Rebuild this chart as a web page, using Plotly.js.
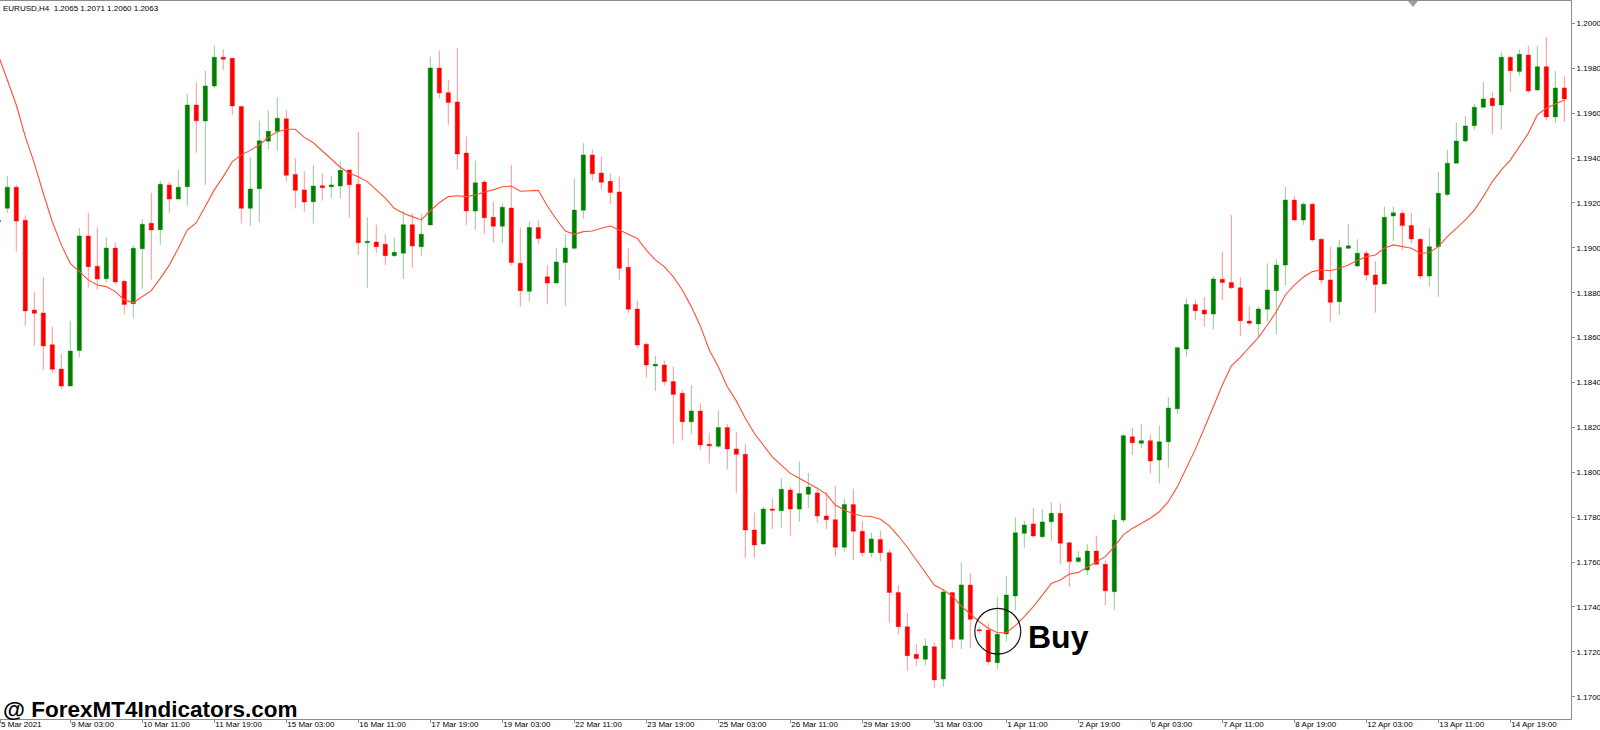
<!DOCTYPE html>
<html><head><meta charset="utf-8">
<script src="https://cdn.plot.ly/plotly-3.0.1.min.js"></script>
<style>html,body{margin:0;padding:0;background:#fff;overflow:hidden}#chart{width:1600px;height:730px}</style>
</head><body><div id="chart"></div>
<script>
const firstBar = -1;
const open = [1.19115,1.19176,1.19270,1.19123,1.18723,1.18710,1.18568,1.18460,1.18384,1.18542,
1.19053,1.18918,1.18862,1.18999,1.18851,1.18751,1.18996,1.19109,1.19081,1.19280,
1.19217,1.19272,1.19636,1.19565,1.19721,1.19849,1.19844,1.19630,1.19176,1.19263,
1.19475,1.19519,1.19575,1.19327,1.19258,1.19205,1.19277,1.19272,1.19275,1.19347,
1.19283,1.19023,1.19026,1.19016,1.18965,1.18976,1.19103,1.19005,1.19102,1.19801,
1.19691,1.19650,1.19422,1.19164,1.19293,1.19136,1.19096,1.19177,1.18931,1.18806,
1.19091,1.18871,1.18843,1.18934,1.18998,1.19167,1.19414,1.19333,1.19296,1.19249,
1.18913,1.18727,1.18570,1.18474,1.18478,1.18404,1.18352,1.18225,1.18273,1.18125,
1.18116,1.18199,1.18104,1.18080,1.17743,1.17681,1.17836,1.17829,1.17921,1.17836,
1.17902,1.17908,1.17805,1.17789,1.17666,1.17857,1.17737,1.17642,1.17701,1.17642,
1.17464,1.17312,1.17189,1.17167,1.17223,1.17079,1.17464,1.17256,1.17498,1.17299,
1.17297,1.17152,1.17280,1.17449,1.17728,1.17770,1.17713,1.17780,1.17817,1.17686,
1.17602,1.17565,1.17649,1.17590,1.17468,1.17787,1.18158,1.18129,1.18141,1.18055,
1.18136,1.18283,1.18549,1.18748,1.18723,1.18705,1.18860,1.18845,1.18822,1.18674,
1.18661,1.18726,1.18809,1.18923,1.19213,1.19124,1.19194,1.19038,1.18857,1.18760,
1.18998,1.18919,1.18976,1.18879,1.18839,1.19142,1.19154,1.19099,1.19038,1.18874,
1.19005,1.19238,1.19377,1.19476,1.19544,1.19626,1.19666,1.19636,1.19849,1.19785,
1.19859,1.19703,1.19807,1.19583,1.19712];
const high = [1.19133,1.19320,1.19280,1.19145,1.18805,1.18870,1.18649,1.18527,1.18674,1.19087,
1.19156,1.19091,1.19048,1.19023,1.18857,1.19012,1.19128,1.19246,1.19298,1.19292,
1.19347,1.19685,1.19736,1.19788,1.19900,1.19884,1.19844,1.19630,1.19403,1.19566,
1.19611,1.19671,1.19614,1.19400,1.19341,1.19369,1.19332,1.19320,1.19384,1.19347,
1.19517,1.19136,1.19103,1.19062,1.19044,1.19164,1.19154,1.19151,1.19851,1.19878,
1.19748,1.19890,1.19495,1.19388,1.19302,1.19205,1.19198,1.19370,1.19090,1.19118,
1.19124,1.18923,1.18998,1.19060,1.19310,1.19466,1.19439,1.19406,1.19332,1.19317,
1.18998,1.18764,1.18577,1.18518,1.18497,1.18470,1.18367,1.18389,1.18307,1.18176,
1.18277,1.18215,1.18179,1.18125,1.17820,1.17847,1.17884,1.17973,1.17936,1.18049,
1.17998,1.17924,1.17911,1.17940,1.17884,1.17926,1.17783,1.17731,1.17740,1.17657,
1.17497,1.17374,1.17235,1.17259,1.17241,1.17480,1.17464,1.17599,1.17550,1.17311,
1.17327,1.17446,1.17538,1.17799,1.17784,1.17840,1.17835,1.17866,1.17862,1.17691,
1.17649,1.17679,1.17718,1.17606,1.17810,1.18171,1.18199,1.18215,1.18169,1.18208,
1.18334,1.18560,1.18775,1.18768,1.18780,1.18874,1.18983,1.19146,1.18869,1.18741,
1.18738,1.18931,1.18949,1.19270,1.19231,1.19203,1.19201,1.19042,1.19005,1.19035,
1.19106,1.19038,1.18986,1.18941,1.19183,1.19183,1.19168,1.19156,1.19042,1.19087,
1.19339,1.19436,1.19557,1.19587,1.19641,1.19740,1.19696,1.19871,1.19855,1.19884,
1.19899,1.19899,1.19939,1.19788,1.19765];
const low = [1.19106,1.19156,1.18983,1.18652,1.18563,1.18456,1.18441,1.18370,1.18384,1.18512,
1.18822,1.18812,1.18846,1.18839,1.18704,1.18686,1.18817,1.18858,1.19014,1.19156,
1.19217,1.19188,1.19424,1.19280,1.19711,1.19792,1.19592,1.19109,1.19097,1.19112,
1.19440,1.19433,1.19295,1.19176,1.19161,1.19109,1.19210,1.19221,1.19221,1.19134,
1.18968,1.18822,1.18978,1.18923,1.18960,1.18861,1.18911,1.18965,1.19102,1.19666,
1.19549,1.19347,1.19102,1.19079,1.19062,1.19023,1.19020,1.18923,1.18738,1.18759,
1.19017,1.18748,1.18843,1.18741,1.18990,1.19130,1.19299,1.19262,1.19194,1.18857,
1.18708,1.18552,1.18421,1.18362,1.18386,1.18125,1.18141,1.18171,1.18099,1.18040,
1.18107,1.18013,1.17909,1.17617,1.17617,1.17676,1.17747,1.17753,1.17718,1.17780,
1.17840,1.17775,1.17747,1.17624,1.17646,1.17609,1.17624,1.17621,1.17602,1.17330,
1.17278,1.17115,1.17137,1.17141,1.17040,1.17045,1.17216,1.17213,1.17216,1.17284,
1.17141,1.17124,1.17245,1.17386,1.17664,1.17710,1.17706,1.17695,1.17590,1.17490,
1.17595,1.17542,1.17587,1.17409,1.17386,1.17775,1.18077,1.18107,1.17995,1.17951,
1.18020,1.18260,1.18515,1.18678,1.18649,1.18637,1.18768,1.18817,1.18607,1.18653,
1.18604,1.18671,1.18616,1.18834,1.19116,1.19102,1.19027,1.18839,1.18671,1.18701,
1.18993,1.18913,1.18854,1.18711,1.18839,1.19030,1.18990,1.19020,1.18860,1.18827,
1.18782,1.19228,1.19377,1.19470,1.19525,1.19626,1.19507,1.19528,1.19693,1.19767,
1.19691,1.19700,1.19569,1.19556,1.19561];
const close = [1.19124,1.19270,1.19119,1.18719,1.18708,1.18563,1.18459,1.18384,1.18540,1.19053,
1.18916,1.18861,1.18999,1.18848,1.18748,1.18998,1.19105,1.19079,1.19283,1.19217,
1.19270,1.19636,1.19566,1.19721,1.19849,1.19840,1.19632,1.19176,1.19262,1.19477,
1.19519,1.19577,1.19323,1.19256,1.19204,1.19275,1.19268,1.19280,1.19345,1.19281,
1.19023,1.19029,1.19005,1.18965,1.18980,1.19103,1.19008,1.19060,1.19801,1.19690,
1.19647,1.19418,1.19164,1.19290,1.19134,1.19096,1.19181,1.18934,1.18809,1.19091,
1.19042,1.18843,1.18937,1.18999,1.19168,1.19414,1.19330,1.19292,1.19246,1.18909,
1.18726,1.18567,1.18478,1.18481,1.18404,1.18347,1.18225,1.18273,1.18122,1.18118,
1.18199,1.18104,1.18080,1.17743,1.17676,1.17836,1.17831,1.17924,1.17836,1.17905,
1.17934,1.17805,1.17789,1.17666,1.17857,1.17737,1.17642,1.17703,1.17642,1.17464,
1.17312,1.17183,1.17170,1.17226,1.17075,1.17467,1.17256,1.17498,1.17345,1.17294,
1.17156,1.17278,1.17453,1.17731,1.17765,1.17716,1.17779,1.17817,1.17684,1.17602,
1.17619,1.17649,1.17590,1.17472,1.17787,1.18163,1.18132,1.18141,1.18050,1.18136,
1.18286,1.18555,1.18748,1.18720,1.18705,1.18861,1.18845,1.18822,1.18675,1.18664,
1.18727,1.18812,1.18923,1.19213,1.19124,1.19194,1.19035,1.18857,1.18757,1.19001,
1.19009,1.18976,1.18879,1.18837,1.19136,1.19156,1.19099,1.19039,1.18874,1.19005,
1.19243,1.19377,1.19476,1.19543,1.19626,1.19663,1.19633,1.19849,1.19789,1.19862,
1.19699,1.19807,1.19583,1.19712,1.19663];
const maValues = [1.19859,1.19748,1.19636,1.19495,1.19377,1.19243,1.19116,1.19013,1.18931,1.18894,
1.18857,1.18834,1.18827,1.18805,1.18768,1.18756,1.18782,1.18809,1.18864,1.18923,
1.18998,1.19079,1.19112,1.19183,1.19258,1.19317,1.19384,1.19414,1.19434,1.19458,
1.19492,1.19517,1.19528,1.19528,1.19492,1.19468,1.19433,1.19394,1.19359,1.19332,
1.19317,1.19295,1.19258,1.19221,1.19176,1.19154,1.19139,1.19124,1.19165,1.19201,
1.19228,1.19232,1.19228,1.19235,1.19249,1.19258,1.19272,1.19275,1.19252,1.19254,
1.19256,1.19186,1.19127,1.19075,1.19060,1.19072,1.19075,1.19087,1.19097,1.19079,
1.19060,1.19042,1.18990,1.18946,1.18916,1.18871,1.18812,1.18738,1.18652,1.18545,
1.18470,1.18381,1.18318,1.18241,1.18174,1.18122,1.18069,1.18032,1.17995,1.17973,
1.17951,1.17929,1.17903,1.17854,1.17832,1.17814,1.17805,1.17803,1.17791,1.17761,
1.17716,1.17666,1.17609,1.17553,1.17498,1.17476,1.17449,1.17404,1.17369,1.17334,
1.17305,1.17285,1.17285,1.17317,1.17357,1.17401,1.17453,1.17505,1.17520,1.17547,
1.17554,1.17577,1.17599,1.17624,1.17669,1.17721,1.17750,1.17773,1.17795,1.17824,
1.17869,1.17936,1.18018,1.18102,1.18196,1.18292,1.18389,1.18474,1.18512,1.18557,
1.18600,1.18656,1.18715,1.18790,1.18834,1.18869,1.18894,1.18901,1.18898,1.18909,
1.18923,1.18943,1.18960,1.18968,1.18998,1.19013,1.19005,1.18998,1.18976,1.18978,
1.19005,1.19050,1.19087,1.19124,1.19168,1.19228,1.19295,1.19347,1.19391,1.19451,
1.19510,1.19592,1.19622,1.19641,1.19659];
const tickLabels = ["5 Mar 2021","9 Mar 03:00","10 Mar 11:00","11 Mar 19:00","15 Mar 03:00","16 Mar 11:00",
"17 Mar 19:00","19 Mar 03:00","22 Mar 11:00","23 Mar 19:00","25 Mar 03:00","26 Mar 11:00","29 Mar 19:00",
"31 Mar 03:00","1 Apr 11:00","2 Apr 19:00","6 Apr 03:00","7 Apr 11:00","8 Apr 19:00","12 Apr 03:00",
"13 Apr 11:00","14 Apr 19:00"];
const priceTicks = [1.1700,1.1720,1.1740,1.1760,1.1780,1.1800,1.1820,1.1840,1.1860,1.1880,1.1900,1.1920,1.1940,1.1960,1.1980,1.2000];
const headerText = "EURUSD,H4  1.2065 1.2071 1.2060 1.2063";
const watermark = "@ ForexMT4Indicators.com";
const signalText = "Buy";

const xRange = [-0.81, 173.74];
const x = open.map((_, i) => firstBar + i);
const tickBars = tickLabels.map((_, i) => Math.max(firstBar + 8 * i, xRange[0] + 0.01));

const font = 'Liberation Sans, Arial, sans-serif';
const axisCol = '#8c8c8c';

const traces = [
  {
    type: 'candlestick', x: x, open: open, high: high, low: low, close: close,
    increasing: {line: {color: 'rgba(0,128,0,0.42)', width: 1}, fillcolor: '#008000'},
    decreasing: {line: {color: 'rgba(255,0,0,0.42)', width: 1}, fillcolor: '#ff0000'},
    whiskerwidth: 0, hoverinfo: 'skip', showlegend: false
  },
  {
    type: 'scatter', mode: 'lines', x: x, y: maValues,
    line: {color: 'rgb(255,80,55)', width: 1.1},
    hoverinfo: 'skip', showlegend: false
  }
];

const layout = {
  width: 1600, height: 730,
  margin: {l: 0, r: 29, t: 1, b: 11, pad: 0},
  paper_bgcolor: '#ffffff', plot_bgcolor: '#ffffff',
  showlegend: false,
  boxgap: 0.33,
  font: {family: font, size: 8, color: '#000'},
  xaxis: {
    range: xRange, showgrid: false, zeroline: false,
    showline: true, linecolor: axisCol, linewidth: 1, mirror: true,
    ticks: 'outside', ticklen: 3, tickcolor: axisCol,
    tickvals: tickBars, ticktext: tickLabels, ticklabelposition: 'outside right',
    ticklabelstandoff: -3,
    tickfont: {family: font, size: 8, color: '#000'},
    rangeslider: {visible: false}, fixedrange: true
  },
  yaxis: {
    side: 'right', range: [1.169009, 1.200995], showgrid: false, zeroline: false,
    showline: true, linecolor: axisCol, linewidth: 1,
    ticks: 'outside', ticklen: 3, tickcolor: axisCol,
    tickvals: priceTicks, tickformat: '.4f',
    tickfont: {family: font, size: 8, color: '#000'}, fixedrange: true
  },
  annotations: [
    {xref: 'paper', yref: 'paper', x: 0, y: 1, xanchor: 'left', yanchor: 'top', xshift: 1, yshift: -1,
     text: headerText, showarrow: false, font: {family: font, size: 8, color: '#000'}},
    {xref: 'paper', yref: 'paper', x: 0, y: 0.0132, xanchor: 'left', yanchor: 'middle', xshift: 1,
     text: '<b>' + watermark + '</b>', showarrow: false, font: {family: font, size: 22.5, color: '#000'}},
    {xref: 'x', yref: 'y', x: 113.2, y: 1.17264, xanchor: 'left', yanchor: 'middle',
     text: '<b>' + signalText + '</b>', showarrow: false, font: {family: font, size: 32, color: '#000'}}
  ],
  shapes: [
    {type: 'circle', xref: 'x', yref: 'y', x0: 107.5, x1: 112.6, y0: 1.17190, y1: 1.17394,
     line: {color: '#111', width: 1.2}},
    {type: 'path', xref: 'paper', yref: 'paper', path: 'M 0.8962 1 L 0.9026 1 L 0.8994 0.9916 Z',
     fillcolor: '#9aa3ad', line: {width: 0}}
  ]
};

Plotly.newPlot('chart', traces, layout, {staticPlot: true, displayModeBar: false});
</script></body></html>
